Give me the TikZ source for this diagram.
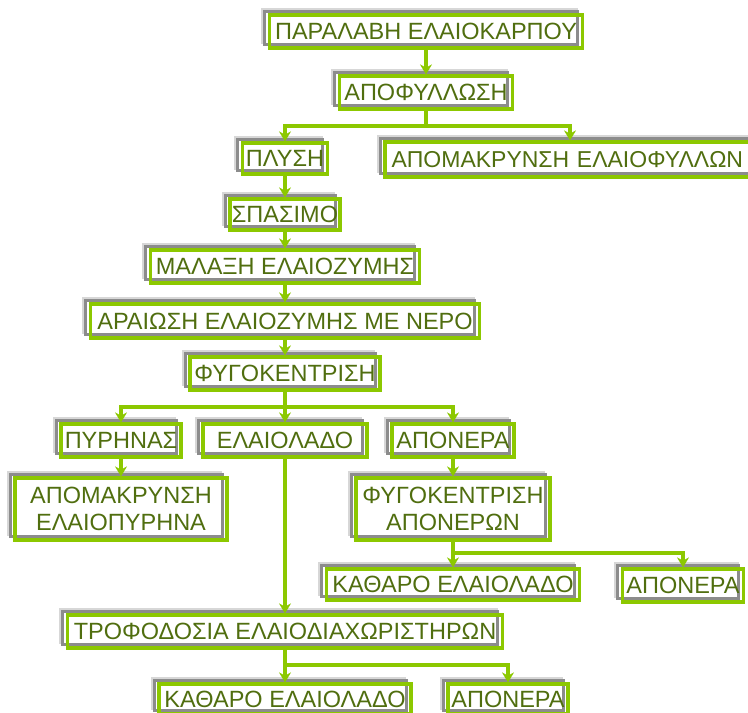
\documentclass[tikz,border=0pt]{standalone}
\usepackage{fontspec}
\setmainfont{Liberation Sans}
\usetikzlibrary{arrows.meta}
\definecolor{limeg}{RGB}{140,200,0}
\definecolor{txtg}{RGB}{80,110,15}
\definecolor{boxgray}{RGB}{140,140,140}
\definecolor{softgray}{RGB}{215,215,215}
\begin{document}
\begin{tikzpicture}[x=1pt,y=-1pt,
  bx/.style={draw=limeg, line width=3.2pt, text=txtg,
    font=\fontsize{23.5}{27}\selectfont, inner sep=0pt, align=center,
    preaction={draw=softgray, line width=3.5pt, transform canvas={shift={(-6.5pt,5.5pt)}}},
    preaction={draw=boxgray, fill=white, line width=3pt, transform canvas={shift={(-5pt,4pt)}}}},
  conn/.style={draw=limeg, line width=3.2pt},
  arr/.style={conn, -{Stealth[length=10pt,width=12pt]}}]
\clip (0,0) rectangle (748,713);
\fill[white] (0,0) rectangle (748,713);

\node[bx, minimum width=313pt, minimum height=33pt] (n1) at (426,31.5) {ΠΑΡΑΛΑΒΗ ΕΛΑΙΟΚΑΡΠΟΥ};
\node[bx, minimum width=173pt, minimum height=33pt] (n2) at (426,92.5) {ΑΠΟΦΥΛΛΩΣΗ};
\node[bx, minimum width=85pt, minimum height=31pt] (n3) at (285,158.5) {ΠΛΥΣΗ};
\node[bx, minimum width=375pt, minimum height=35pt, text width=362pt, align=left, font=\fontsize{23}{27}\selectfont] (n4) at (572.5,159.5) {ΑΠΟΜΑΚΡΥΝΣΗ ΕΛΑΙΟΦΥΛΛΩΝ};
\node[bx, minimum width=110pt, minimum height=31pt] (n5) at (285,214.5) {ΣΠΑΣΙΜΟ};
\node[bx, minimum width=269pt, minimum height=33pt] (n6) at (285,266.5) {ΜΑΛΑΞΗ ΕΛΑΙΟΖΥΜΗΣ};
\node[bx, minimum width=389pt, minimum height=34pt] (n7) at (285,321) {ΑΡΑΙΩΣΗ ΕΛΑΙΟΖΥΜΗΣ ΜΕ ΝΕΡΟ};
\node[bx, minimum width=190pt, minimum height=33pt] (n8) at (285,373.5) {ΦΥΓΟΚΕΝΤΡΙΣΗ};
\node[bx, minimum width=120pt, minimum height=33pt] (n9) at (121,440.5) {ΠΥΡΗΝΑΣ};
\node[bx, minimum width=164pt, minimum height=33pt] (n10) at (285,440.5) {ΕΛΑΙΟΛΑΔΟ};
\node[bx, minimum width=122pt, minimum height=33pt] (n11) at (453,440.5) {ΑΠΟΝΕΡΑ};
\node[bx, minimum width=212pt, minimum height=62pt] (n12) at (121,509) {ΑΠΟΜΑΚΡΥΝΣΗ\\ΕΛΑΙΟΠΥΡΗΝΑ};
\node[bx, minimum width=194pt, minimum height=62pt] (n13) at (453,509) {ΦΥΓΟΚΕΝΤΡΙΣΗ\\ΑΠΟΝΕΡΩΝ};
\node[bx, minimum width=253pt, minimum height=31pt] (n14) at (453,584.5) {ΚΑΘΑΡΟ ΕΛΑΙΟΛΑΔΟ};
\node[bx, minimum width=121pt, minimum height=33pt] (n15) at (683,585.5) {ΑΠΟΝΕΡΑ};
\node[bx, minimum width=435pt, minimum height=33pt] (n16) at (285,631.5) {ΤΡΟΦΟΔΟΣΙΑ ΕΛΑΙΟΔΙΑΧΩΡΙΣΤΗΡΩΝ};
\node[bx, minimum width=252pt, minimum height=30pt] (n17) at (285,699) {ΚΑΘΑΡΟ ΕΛΑΙΟΛΑΔΟ};
\node[bx, minimum width=120pt, minimum height=30pt] (n18) at (508,699) {ΑΠΟΝΕΡΑ};

\coordinate (s1) at (0,126);
\coordinate (s2) at (0,407);
\coordinate (s3) at (0,553);
\coordinate (s4) at (0,665);
\coordinate (a4) at (570,0);

\draw[arr] (n1.south) -- (n2.north);
\draw[conn] (n2.south) -- (n2.south |- s1);
\draw[arr] (n2.south |- s1) -| (n3.north);
\draw[arr] (n2.south |- s1) -| (n4.north -| a4);
\draw[arr] (n3.south) -- (n5.north);
\draw[arr] (n5.south) -- (n6.north);
\draw[arr] (n6.south) -- (n7.north);
\draw[arr] (n7.south) -- (n8.north);
\draw[conn] (n8.south) -- (n8.south |- s2);
\draw[arr] (n8.south |- s2) -| (n9.north);
\draw[arr] (n8.south |- s2) -- (n10.north);
\draw[arr] (n8.south |- s2) -| (n11.north);
\draw[arr] (n9.south) -- (n12.north);
\draw[arr] (n11.south) -- (n13.north);
\draw[arr] (n10.south) -- (n16.north);
\draw[conn] (n13.south) -- (n13.south |- s3);
\draw[arr] (n13.south |- s3) -- (n14.north);
\draw[arr] (n13.south |- s3) -| (n15.north);
\draw[conn] (n16.south) -- (n16.south |- s4);
\draw[arr] (n16.south |- s4) -- (n17.north);
\draw[arr] (n16.south |- s4) -| (n18.north);
\end{tikzpicture}
\end{document}
